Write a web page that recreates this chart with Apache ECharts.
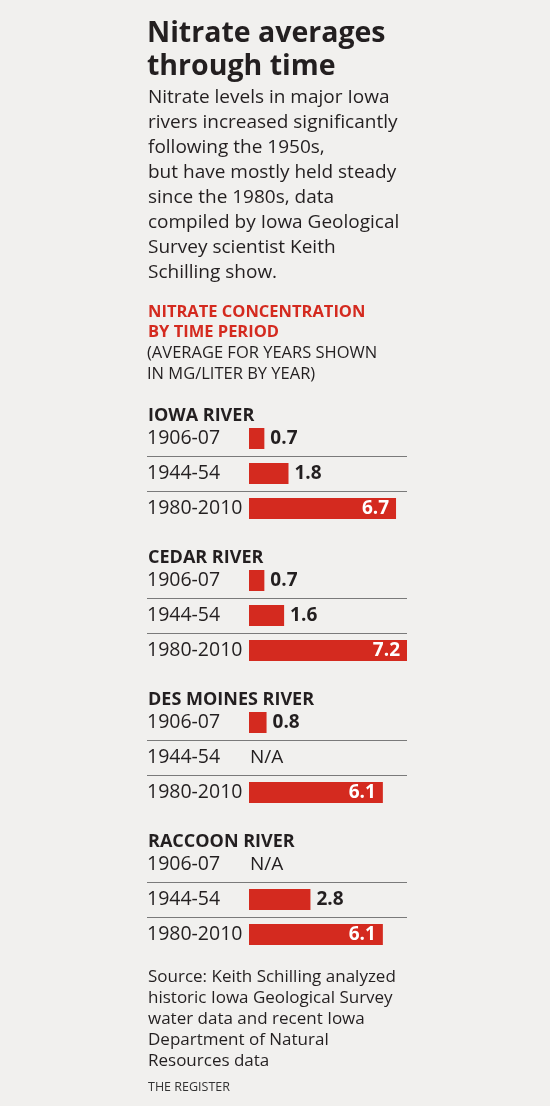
<!DOCTYPE html>
<html lang="en">
<head>
    <meta charset="UTF-8">
    <title>Nitrate averages through time</title>
    <script src="https://cdn.jsdelivr.net/npm/echarts@6/dist/echarts.min.js"></script>
    <style>
        html, body { margin: 0; padding: 0; background: #f1f0ee; }
        #chart { width: 550px; height: 1106px; }
    </style>
</head>
<body>
<div id="chart"></div>
<script>
    // data
    var periods = ['1906-07', '1944-54', '1980-2010'];
    var rivers = ['IOWA RIVER', 'CEDAR RIVER', 'DES MOINES RIVER', 'RACCOON RIVER'];
    var iowaRiver = [0.7, 1.8, 6.7];
    var cedarRiver = [0.7, 1.6, 7.2];
    var desMoinesRiver = [0.8, null, 6.1];
    var raccoonRiver = [null, 2.8, 6.1];
    var riverValues = [iowaRiver, cedarRiver, desMoinesRiver, raccoonRiver];

    var FONT = 'Open Sans';
    var INK = '#231f20';
    var RED = '#d42a1f';

    // layout
    var gridLeft = 249;
    var gridWidth = 158;
    var textLeft = 147;
    var blockTop = 421;
    var blockStep = 142;
    var bandHeight = 35;

    var chart = echarts.init(document.getElementById('chart'));

    var grids = [], xAxes = [], yAxes = [], series = [];
    var titles = [
        {
            text: 'Nitrate averages\nthrough time',
            left: 147, top: 17,
            textStyle: { fontFamily: FONT, fontSize: 28.5, fontWeight: 'bold', color: INK, lineHeight: 33 }
        },
        {
            text: 'Nitrate levels in major Iowa\nrivers increased significantly\nfollowing the 1950s,\nbut have mostly held steady\nsince the 1980s, data\ncompiled by Iowa Geological\nSurvey scientist Keith\nSchilling show.',
            left: 148, top: 85,
            textStyle: { fontFamily: FONT, fontSize: 19, fontWeight: 'normal', color: INK, lineHeight: 25 }
        },
        {
            text: 'NITRATE CONCENTRATION\nBY TIME PERIOD',
            left: 148, top: 302,
            textStyle: { fontFamily: FONT, fontSize: 16.5, fontWeight: 'bold', color: RED, lineHeight: 20 }
        },
        {
            text: '(AVERAGE FOR YEARS SHOWN\nIN MG/LITER BY YEAR)',
            left: 147, top: 343,
            textStyle: { fontFamily: FONT, fontSize: 16.5, fontWeight: 'normal', color: INK, lineHeight: 21 }
        },
        {
            text: 'Source: Keith Schilling analyzed\nhistoric Iowa Geological Survey\nwater data and recent Iowa\nDepartment of Natural\nResources data',
            left: 148, top: 967,
            textStyle: { fontFamily: FONT, fontSize: 17, fontWeight: 'normal', color: INK, lineHeight: 21 }
        },
        {
            text: 'THE REGISTER',
            left: 148, top: 1080,
            textStyle: { fontFamily: FONT, fontSize: 12.5, fontWeight: 'normal', color: '#333', lineHeight: 14 }
        }
    ];

    riverValues.forEach(function (vals, i) {
        var top = blockTop + blockStep * i;
        titles.push({
            text: rivers[i],
            left: 148, top: top - 16,
            textStyle: { fontFamily: FONT, fontSize: 18, fontWeight: 'bold', color: INK, lineHeight: 22 }
        });
        grids.push({ left: gridLeft, top: top, width: gridWidth, height: bandHeight * periods.length });
        xAxes.push({ gridIndex: i, type: 'value', min: 0, max: 7.2, show: false });
        yAxes.push({
            gridIndex: i,
            type: 'category',
            inverse: true,
            data: periods,
            axisLine: { show: false },
            axisTick: { show: false },
            splitLine: { show: false },
            axisLabel: {
                align: 'left',
                margin: gridLeft - textLeft,
                fontFamily: FONT, fontSize: 19.5, color: INK
            }
        });
        series.push({
            type: 'bar',
            xAxisIndex: i,
            yAxisIndex: i,
            barWidth: 21,
            itemStyle: { color: RED },
            silent: true,
            data: vals.map(function (v) {
                if (v == null) {
                    return {
                        value: 0,
                        label: { show: true, position: 'right', distance: 1, formatter: 'N/A',
                                 fontFamily: FONT, fontSize: 19, fontWeight: 'normal', color: INK }
                    };
                }
                var inside = v > 4;
                return {
                    value: v,
                    label: {
                        show: true,
                        position: inside ? 'insideRight' : 'right',
                        distance: inside ? 7 : 6,
                        formatter: v.toFixed(1),
                        fontFamily: FONT, fontSize: 19, fontWeight: 'bold',
                        color: inside ? '#fff' : INK
                    }
                };
            })
        });
    });

    titles.forEach(function (t) { t.padding = 0; });

    chart.setOption({
        backgroundColor: '#f1f0ee',
        animation: false,
        title: titles,
        grid: grids,
        xAxis: xAxes,
        yAxis: yAxes,
        series: series
    });

    // row separators between periods, derived from the category axis
    var lines = [];
    riverValues.forEach(function (vals, i) {
        var xEnd = chart.convertToPixel({ xAxisIndex: i }, 7.2);
        for (var k = 1; k < periods.length; k++) {
            var y0 = chart.convertToPixel({ yAxisIndex: i }, periods[k - 1]);
            var y1 = chart.convertToPixel({ yAxisIndex: i }, periods[k]);
            var y = Math.round((y0 + y1) / 2) + 0.5;
            lines.push({
                type: 'line',
                shape: { x1: textLeft, y1: y, x2: xEnd, y2: y },
                style: { stroke: '#7a7a7a', lineWidth: 1 },
                silent: true
            });
        }
    });
    chart.setOption({ graphic: lines });
</script>
</body>
</html>
